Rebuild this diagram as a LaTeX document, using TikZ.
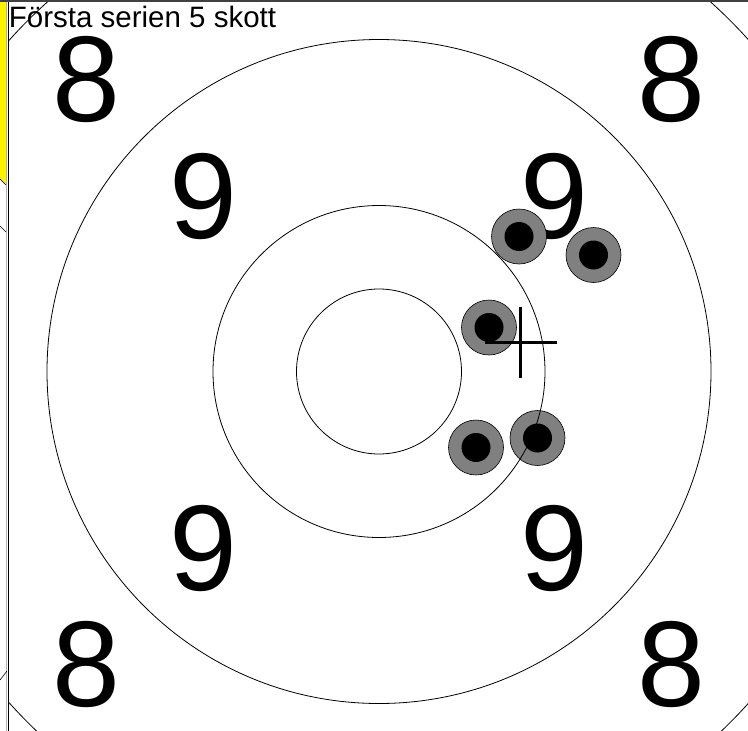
\documentclass[tikz,border=0pt]{standalone}
\usepackage{fontspec}
\setmainfont{Liberation Sans}
\begin{document}
\begin{tikzpicture}[x=1pt,y=-1pt,
  ring/.style={line width=0.8pt},
  ringlabel/.style={anchor=base,inner sep=0pt,font=\fontsize{122}{122}\selectfont},
  hole/.style={draw=black,fill=gray,line width=0.6pt},
  core/.style={fill=black}]
 \useasboundingbox (0,0) rectangle (748,731);
 \fill[white] (0,0) rectangle (748,731);
 \begin{scope}
  \fill[yellow] (0,0) -- (6,0) -- (6,185) -- (0,179) -- cycle;
  \draw[gray!60,line width=1pt] (6.5,0) -- (6.5,731);
  \draw[line width=0.6pt] (0,179) -- (6,185);
  \draw[line width=0.6pt] (0,226) -- (6,232);
  \draw[line width=0.6pt] (0,680) -- (7,671);
 \end{scope}
 \coordinate (centre) at (379,371.5);
 \foreach \dx/\dy/\v [count=\i] in {-292.5/-292.5/8, 292.5/-292.5/8,
    -175.5/-175.5/9, 175.5/-175.5/9, -175.5/176/9, 175.5/176/9,
    -292.5/292.5/8, 292.5/292.5/8}
  \node[ringlabel] (lab\i) at ([shift={(\dx,\dy+42.5)}]centre) {\v};
 \begin{scope}
  \clip (8,1) rectangle (748,731);
  \foreach \x/\y [count=\i] in {519/236.5, 593.5/255, 489/327.5, 537.5/438, 476/447.5}
   \fill[hole] (\x,\y) circle [radius=27.5pt];
  \foreach \r in {82.5,166,332,496.5}
   \draw[ring] (centre) circle [radius=\r pt];
  \foreach \x/\y [count=\i] in {519/236.5, 593.5/255, 489/327.5, 537.5/438, 476/447.5}
   \fill[core] (\x,\y) circle [radius=14.5pt];
  \coordinate (mpi) at (520.7,342.3);
  \draw[line width=3pt] (mpi) ++(-36,0) -- ++(72,0);
  \draw[line width=3pt] (mpi) ++(0,-35.5) -- ++(0,71);
 \end{scope}
 \node[anchor=base west,inner sep=0pt,font=\fontsize{29.5}{30}\selectfont]
      (title) at (8.7,27.5) {Första serien 5 skott};
 \draw[line width=1.5pt] (8.25,0) -- (8.25,731);
 \draw[line width=2pt,black!75] (0,0.5) -- (748,0.5);
\end{tikzpicture}
\end{document}
